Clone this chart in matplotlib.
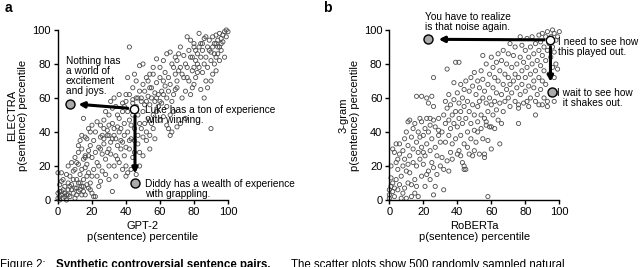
import numpy as np
import matplotlib.pyplot as plt

plt.rcParams['font.family'] = ['Liberation Sans', 'DejaVu Sans']

# panel a: GPT-2 vs ELECTRA percentiles
gpt2_x = [0, 0, 1, 1, 1, 2, 2, 3, 3, 4, 4, 5, 5, 5, 6, 6, 6, 7, 7, 8, 8, 9, 9, 10, 10, 10, 11, 11, 12, 12, 12, 13, 13, 14, 14, 14, 15, 15, 16, 16, 17, 17, 18, 18, 19, 19, 20, 20, 3, 2, 4, 6, 8, 9, 7, 11, 13, 15, 1, 21, 0, 2, 16, 18,
          10, 11, 12, 13, 14, 15, 16, 16, 17, 18, 19, 19, 20, 21, 21, 22, 22, 23, 23, 24, 24, 25, 25, 26, 26, 27, 28, 28, 29, 30, 30, 30, 31, 32, 32, 33, 34, 35, 22, 24, 27, 20, 23, 17, 26, 29, 31, 33, 35, 34, 36, 37, 38, 39, 40, 25, 18, 14, 12,
          25, 27, 29, 30, 31, 32, 33, 33, 34, 35, 36, 36, 37, 38, 38, 39, 40, 40, 41, 42, 42, 43, 44, 44, 45, 45, 46, 46, 47, 47, 48, 48, 49, 50, 50, 51, 52, 53, 15, 16, 28, 30, 32, 35, 37, 39, 41, 43, 44, 47, 49, 51, 52, 54, 55, 56, 57, 54, 50, 48, 43, 40, 41, 36, 34, 38, 42, 45, 30, 27,
          41, 42, 42, 44, 45, 46, 48, 48, 50, 50, 52, 52, 53, 54, 54, 55, 56, 56, 57, 58, 58, 58, 59, 60, 60, 61, 62, 62, 63, 64, 64, 64, 65, 65, 66, 66, 66, 67, 67, 68, 69, 70, 70, 46, 49, 51, 53, 55, 57, 59, 61, 63, 65, 67, 69, 60, 62, 56, 54, 47, 44, 40, 39, 58, 60, 62, 64, 66, 68, 72, 75,
          70, 71, 72, 72, 73, 74, 75, 75, 76, 76, 77, 78, 78, 78, 79, 80, 80, 80, 81, 82, 82, 83, 83, 84, 84, 85, 85, 86, 86, 87, 87, 88, 88, 89, 90, 90, 90, 91, 92, 92, 93, 93, 94, 94, 95, 95, 96, 96, 97, 98, 98, 99, 99, 100, 74, 76, 79, 81, 83, 85, 87, 89, 91, 93, 95, 97, 80, 82, 84, 86, 88, 90, 92, 94, 96, 73, 77, 79, 81, 71, 70, 68, 69, 91, 93]
electra_y = [1, 4, 0, 2, 9, 5, 16, 1, 12, 4, 8, 3, 15, 0, 6, 10, 20, 2, 14, 9, 22, 4, 17, 7, 1, 18, 3, 12, 5, 10, 21, 6, 15, 3, 8, 18, 5, 12, 3, 19, 9, 14, 7, 16, 6, 10, 4, 14, 6, 3, 2, 3, 6, 12, 8, 7, 10, 8, 5, 2, 16, 11, 25, 26,
             25, 22, 28, 35, 30, 24, 26, 37, 21, 29, 32, 40, 25, 18, 35, 28, 40, 14, 22, 20, 31, 11, 37, 17, 27, 33, 15, 24, 38, 12, 20, 30, 27, 5, 36, 20, 26, 32, 2, 8, 42, 44, 46, 36, 38, 28, 34, 42, 24, 14, 22, 30, 18, 26, 20, 30, 42, 38, 32,
             44, 47, 41, 50, 58, 45, 38, 60, 55, 43, 48, 62, 35, 52, 57, 45, 31, 58, 40, 30, 47, 36, 25, 50, 28, 42, 15, 55, 33, 38, 28, 45, 60, 37, 52, 45, 40, 48, 48, 56, 52, 44, 54, 50, 42, 38, 52, 44, 57, 50, 42, 56, 35, 38, 45, 42, 36, 30, 26, 20, 18, 14, 16, 40, 36, 34, 35, 35, 38, 36,
             72, 62, 90, 66, 74, 70, 64, 79, 68, 80, 58, 72, 61, 56, 66, 60, 50, 74, 63, 52, 69, 83, 55, 47, 78, 64, 49, 70, 75, 44, 60, 86, 42, 72, 38, 68, 87, 40, 80, 62, 74, 43, 70, 60, 58, 64, 70, 66, 58, 62, 57, 67, 64, 58, 65, 72, 82, 78, 74, 60, 59, 62, 55, 60, 58, 62, 55, 50, 52, 45, 48,
             82, 86, 78, 90, 60, 85, 64, 80, 72, 96, 88, 62, 84, 94, 76, 68, 90, 92, 82, 75, 86, 78, 98, 65, 92, 75, 88, 60, 95, 70, 84, 66, 90, 94, 42, 70, 87, 96, 80, 92, 76, 97, 86, 94, 82, 98, 88, 95, 97, 84, 99, 100, 96, 99, 72, 78, 84, 88, 90, 92, 96, 88, 90, 92, 90, 93, 78, 80, 84, 80, 78, 82, 86, 90, 92, 74, 70, 66, 72, 76, 66, 78, 84, 74, 84]

# panel b: RoBERTa vs 3-gram percentiles
roberta_x = [0, 0, 1, 1, 2, 2, 3, 3, 4, 4, 5, 5, 6, 6, 7, 7, 8, 8, 9, 9, 10, 10, 11, 11, 12, 12, 13, 13, 14, 14, 15, 15, 2, 4, 6, 1, 3, 5, 8, 11, 13, 0, 9, 10, 11, 12, 14, 15,
             16, 16, 17, 17, 17, 18, 18, 19, 19, 19, 20, 20, 21, 21, 22, 22, 23, 23, 24, 24, 25, 25, 26, 26, 26, 27, 27, 28, 28, 29, 29, 30, 30, 16, 18, 20, 22, 24, 27, 16, 19, 22, 23, 25, 26, 26, 24, 29, 21,
             31, 31, 32, 32, 32, 33, 33, 33, 34, 34, 34, 35, 35, 35, 36, 36, 36, 37, 37, 38, 38, 38, 39, 39, 40, 40, 40, 41, 41, 41, 42, 42, 42, 43, 43, 43, 44, 44, 44, 45, 45, 45, 46, 46, 47, 47, 47, 48, 48, 48, 49, 49, 50, 50, 50, 39, 44, 41, 46, 49, 37, 35, 44, 42,
             51, 51, 52, 52, 52, 53, 53, 53, 54, 54, 54, 55, 55, 55, 56, 56, 56, 57, 57, 57, 58, 58, 58, 58, 59, 59, 60, 60, 60, 61, 61, 61, 62, 62, 62, 63, 63, 63, 64, 64, 64, 65, 65, 65, 66, 66, 66, 67, 67, 67, 68, 68, 69, 69, 70, 70, 70, 55, 52, 56, 59, 60, 50, 57,
             71, 71, 71, 72, 72, 73, 73, 74, 74, 74, 75, 75, 76, 76, 76, 77, 77, 77, 78, 78, 78, 79, 79, 80, 80, 80, 81, 81, 81, 82, 82, 83, 83, 83, 84, 84, 85, 85, 85, 86, 86, 86, 87, 87, 88, 88, 88, 89, 89, 89, 90, 90, 90, 90, 91, 91, 91, 92, 92, 92, 93, 93, 93, 94, 94, 95, 95, 95, 96, 96, 96, 97, 97, 97, 98, 98, 99, 99, 100, 97, 98, 76, 82, 88, 93, 86]
trigram_y = [1, 3, 8, 13, 5, 10, 2, 7, 12, 22, 6, 18, 9, 27, 1, 14, 20, 29, 7, 24, 17, 1, 21, 32, 16, 26, 9, 37, 22, 30, 4, 12, 30, 33, 33, 20, 28, 24, 4, 10, 2, 6, 36, 40, 46, 47, 42, 45,
             20, 34, 2, 28, 40, 24, 37, 14, 31, 46, 21, 38, 8, 26, 33, 48, 17, 40, 12, 29, 22, 36, 3, 19, 47, 31, 43, 15, 26, 38, 48, 20, 34, 8, 48, 28, 15, 44, 8, 61, 61, 60, 57, 61, 55, 72, 48, 41, 42,
             25, 40, 6, 18, 50, 34, 45, 58, 23, 54, 77, 38, 47, 62, 28, 42, 56, 50, 33, 45, 59, 69, 36, 52, 27, 43, 63, 48, 57, 81, 38, 52, 68, 22, 45, 60, 33, 55, 65, 18, 48, 70, 40, 58, 27, 52, 64, 36, 45, 72, 56, 67, 41, 50, 75, 81, 20, 29, 31, 26, 24, 17, 18, 26,
             34, 62, 46, 55, 70, 27, 58, 66, 42, 50, 76, 36, 60, 71, 27, 48, 64, 44, 57, 80, 2, 35, 52, 68, 60, 74, 43, 56, 84, 50, 66, 78, 42, 58, 72, 63, 53, 81, 47, 70, 86, 33, 57, 76, 45, 62, 82, 52, 68, 88, 58, 74, 65, 80, 60, 72, 86, 85, 40, 25, 43, 30, 29, 46,
             55, 68, 92, 63, 78, 70, 85, 58, 74, 90, 66, 80, 45, 56, 72, 62, 84, 96, 68, 76, 91, 57, 81, 64, 72, 88, 58, 78, 95, 67, 84, 60, 74, 90, 80, 96, 66, 70, 86, 58, 76, 92, 62, 82, 72, 88, 97, 65, 79, 93, 56, 70, 85, 98, 60, 76, 90, 68, 82, 96, 58, 88, 99, 74, 92, 62, 84, 96, 78, 90, 100, 72, 87, 98, 80, 94, 77, 96, 99, 58, 63, 54, 55, 56, 55, 50]

# highlighted sentences in percentile coordinates
a_start = (45, 53.5)
a_left = (7, 56.5)
a_down = (45.5, 10)
b_start = (94.5, 94)
b_left = (23, 94.5)
b_down = (95.5, 63.5)

fig = plt.figure(figsize=(6.4, 2.67), dpi=100)
ax1 = fig.add_axes([0.0906, 0.251, 0.2656, 0.6367])
ax2 = fig.add_axes([0.6083, 0.251, 0.2656, 0.6367])

fs = 8


def style(ax, xlab, ylab):
    ax.set_xlim(0, 100)
    ax.set_ylim(0, 100)
    ax.set_xticks([0, 20, 40, 60, 80, 100])
    ax.set_yticks([0, 20, 40, 60, 80, 100])
    ax.spines['top'].set_visible(False)
    ax.spines['right'].set_visible(False)
    ax.spines['left'].set_linewidth(1.0)
    ax.spines['bottom'].set_linewidth(1.0)
    ax.tick_params(direction='out', length=3, width=1.0, labelsize=fs, pad=2)
    ax.set_xlabel(xlab + '\np(sentence) percentile', fontsize=fs, labelpad=3, linespacing=1.1)
    ax.set_ylabel(ylab + '\np(sentence) percentile', fontsize=fs, labelpad=3, linespacing=1.1)


def arrow(ax, start, end):
    ax.annotate('', xy=end, xytext=start,
                arrowprops=dict(arrowstyle='-|>', color='black', lw=2.2, mutation_scale=8,
                                shrinkA=0, shrinkB=0))


# panel a
ax1.scatter(gpt2_x, electra_y, s=9, facecolors='none', edgecolors='#4a4a4a', linewidths=0.6, clip_on=False, zorder=2)
style(ax1, 'GPT-2', 'ELECTRA')
arrow(ax1, (41, 54), (12, 56.3))
arrow(ax1, (45.3, 49.5), (45.3, 15.5))
ax1.plot(*a_start, 'o', ms=6, mfc='white', mec='black', mew=1.0, zorder=5)
ax1.plot(*a_left, 'o', ms=6.5, mfc='#aaaaaa', mec='black', mew=1.0, zorder=5)
ax1.plot(*a_down, 'o', ms=6.5, mfc='#aaaaaa', mec='black', mew=1.0, zorder=5)
ax1.text(4.5, 84.5, 'Nothing has\na world of\nexcitement\nand joys.', fontsize=7.3, va='top', ha='left', linespacing=1.0, zorder=6)
ax1.text(51, 50, 'Luke has a ton of experience\nwith winning.', fontsize=7.3, va='center', ha='left', linespacing=1.0, zorder=6)
ax1.text(51, 6.5, 'Diddy has a wealth of experience\nwith grappling.', fontsize=7.3, va='center', ha='left', linespacing=1.0, zorder=6)

# panel b
ax2.scatter(roberta_x, trigram_y, s=9, facecolors='none', edgecolors='#4a4a4a', linewidths=0.6, clip_on=False, zorder=2)
style(ax2, 'RoBERTa', '3-gram')
arrow(ax2, (91, 94.2), (29, 94.5))
arrow(ax2, (94.8, 90), (94.8, 69.5))
ax2.plot(*b_start, 'o', ms=6, mfc='white', mec='black', mew=1.0, zorder=5, clip_on=False)
ax2.plot(*b_left, 'o', ms=6.5, mfc='#aaaaaa', mec='black', mew=1.0, zorder=5)
ax2.plot(*b_down, 'o', ms=6.5, mfc='#aaaaaa', mec='black', mew=1.0, zorder=5)
ax2.text(21, 110.5, 'You have to realize\nis that noise again.', fontsize=7.3, va='top', ha='left', linespacing=1.0, clip_on=False)
ax2.text(99, 90, 'I need to see how\nthis played out.', fontsize=7.3, va='center', ha='left', linespacing=1.0, clip_on=False)
ax2.text(98.5, 60, 'I wait to see how\n  it shakes out.', fontsize=7.3, va='center', ha='left', linespacing=1.0, clip_on=False)

fig.text(0.008, 0.995, 'a', fontsize=10, fontweight='bold', va='top')
fig.text(0.505, 0.995, 'b', fontsize=10, fontweight='bold', va='top')

# caption, cut off at the bottom edge as in the source figure
fig.text(0.0, 0.008, 'Figure 2:', fontsize=8.3, va='center', ha='left')
fig.text(0.087, 0.008, 'Synthetic controversial sentence pairs.', fontsize=8.3, fontweight='bold', va='center', ha='left')
fig.text(0.455, 0.008, 'The scatter plots show 500 randomly sampled natural', fontsize=8.3, va='center', ha='left')

fig.savefig('out.png', dpi=100)
